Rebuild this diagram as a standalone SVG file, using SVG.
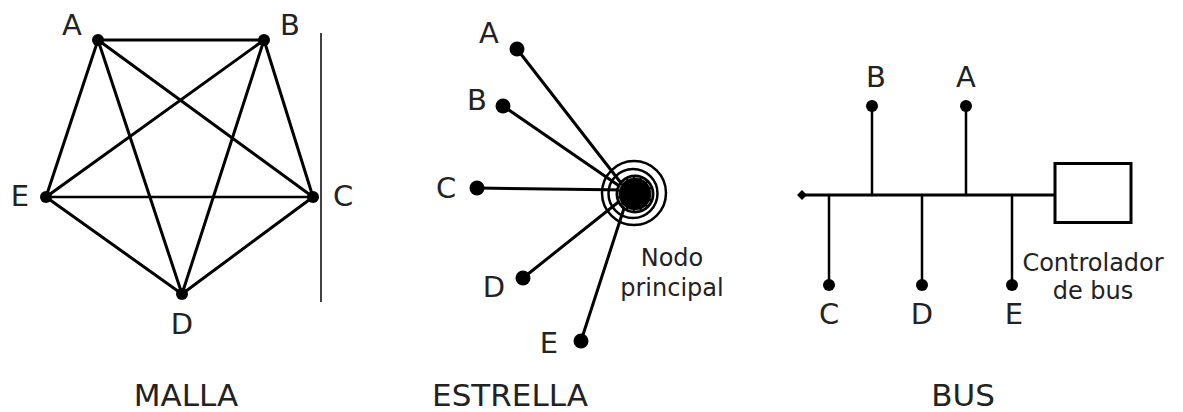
<svg xmlns="http://www.w3.org/2000/svg" width="1183" height="412" viewBox="0 0 1183 412">
<style>
text{font-family:"DejaVu Sans","Liberation Sans",sans-serif;fill:#222;text-anchor:middle}
.lbl{font-size:29px}
.ttl{font-size:31px}
.sm{font-size:24px}
.ln{stroke:#000;stroke-width:3;fill:none;stroke-linecap:round}
.thin{stroke:#000;stroke-width:1.5;fill:none}
.dot{fill:#000}
</style>
<rect width="1183" height="412" fill="#fff"/>
<g id="connectors">
<g class="ln">
<line x1="98" y1="40" x2="264" y2="40"/>
<line x1="98" y1="40" x2="313" y2="197"/>
<line x1="98" y1="40" x2="46" y2="197"/>
<line x1="98" y1="40" x2="182" y2="294"/>
<line x1="264" y1="40" x2="313" y2="197"/>
<line x1="264" y1="40" x2="46" y2="197"/>
<line x1="264" y1="40" x2="182" y2="294"/>
<line x1="46" y1="197" x2="313" y2="197" stroke-width="2.5"/>
<line x1="46" y1="197" x2="182" y2="294"/>
<line x1="313" y1="197" x2="182" y2="294"/>
</g>
<line class="thin" x1="321" y1="33" x2="321" y2="302"/>
<g class="ln" stroke-width="3.2">
<line x1="517" y1="49" x2="628" y2="192"/>
<line x1="503" y1="106" x2="628" y2="192"/>
<line x1="477" y1="188" x2="628" y2="190"/>
<line x1="523" y1="278" x2="626" y2="196"/>
<line x1="581" y1="341" x2="628" y2="196"/>
</g>
<g class="ln">
<line x1="802" y1="195" x2="1054" y2="195"/>
<line x1="872" y1="106" x2="872" y2="195" stroke-width="2.5"/>
<line x1="966" y1="106" x2="966" y2="195" stroke-width="2.5"/>
<line x1="829" y1="195" x2="829" y2="285" stroke-width="2.5"/>
<line x1="922" y1="195" x2="922" y2="285" stroke-width="2.5"/>
<line x1="1012" y1="195" x2="1012" y2="285" stroke-width="2.5"/>
</g>
</g>
<g id="mesh-A"><circle class="dot" cx="98" cy="40" r="6"/><text class="lbl" x="72" y="35">A</text></g>
<g id="mesh-B"><circle class="dot" cx="264" cy="40" r="6"/><text class="lbl" x="290" y="35">B</text></g>
<g id="mesh-C"><circle class="dot" cx="313" cy="197" r="6"/><text class="lbl" x="343" y="206">C</text></g>
<g id="mesh-D"><circle class="dot" cx="182" cy="294" r="6"/><text class="lbl" x="182" y="334">D</text></g>
<g id="mesh-E"><circle class="dot" cx="46" cy="197" r="6"/><text class="lbl" x="20" y="206">E</text></g>
<g id="title-malla"><text class="ttl" x="186" y="406">MALLA</text></g>
<g id="star-A"><circle class="dot" cx="517" cy="49" r="7.5"/><text class="lbl" x="489" y="43">A</text></g>
<g id="star-B"><circle class="dot" cx="503" cy="106" r="7.5"/><text class="lbl" x="477" y="110">B</text></g>
<g id="star-C"><circle class="dot" cx="477" cy="188" r="7.5"/><text class="lbl" x="446" y="198">C</text></g>
<g id="star-D"><circle class="dot" cx="523" cy="278" r="7.5"/><text class="lbl" x="494" y="297">D</text></g>
<g id="star-E"><circle class="dot" cx="581" cy="341" r="7.5"/><text class="lbl" x="549" y="353">E</text></g>
<g id="star-hub">
<circle cx="634" cy="193" r="32" fill="none" stroke="#000" stroke-width="2.5"/>
<circle cx="633" cy="193.5" r="24.5" fill="none" stroke="#000" stroke-width="2.5"/>
<circle cx="635" cy="194" r="19.5" fill="#000"/>
<circle cx="635" cy="194" r="16.5" fill="none" stroke="#bbb" stroke-width="0.7" stroke-dasharray="5 2"/>
<text class="sm" x="672" y="266">Nodo</text>
<text class="sm" x="672" y="296">principal</text>
</g>
<g id="title-estrella"><text class="ttl" x="510" y="406">ESTRELLA</text></g>
<g id="bus-end"><path class="dot" d="M797 195 L802 190 L807 195 L802 200 Z"/></g>
<g id="bus-B"><circle class="dot" cx="872" cy="106" r="6"/><text class="lbl" x="876" y="87">B</text></g>
<g id="bus-A"><circle class="dot" cx="966" cy="106" r="6"/><text class="lbl" x="966" y="87">A</text></g>
<g id="bus-C"><circle class="dot" cx="829" cy="285" r="6"/><text class="lbl" x="829" y="324">C</text></g>
<g id="bus-D"><circle class="dot" cx="922" cy="285" r="6"/><text class="lbl" x="922" y="324">D</text></g>
<g id="bus-E"><circle class="dot" cx="1012" cy="285" r="6"/><text class="lbl" x="1014" y="324">E</text></g>
<g id="bus-controller">
<rect x="1055" y="163.5" width="76" height="59" fill="#fff" stroke="#000" stroke-width="3"/>
<text class="sm" x="1093" y="271">Controlador</text>
<text class="sm" x="1093" y="299">de bus</text>
</g>
<g id="title-bus"><text class="ttl" x="963" y="406">BUS</text></g>
</svg>
